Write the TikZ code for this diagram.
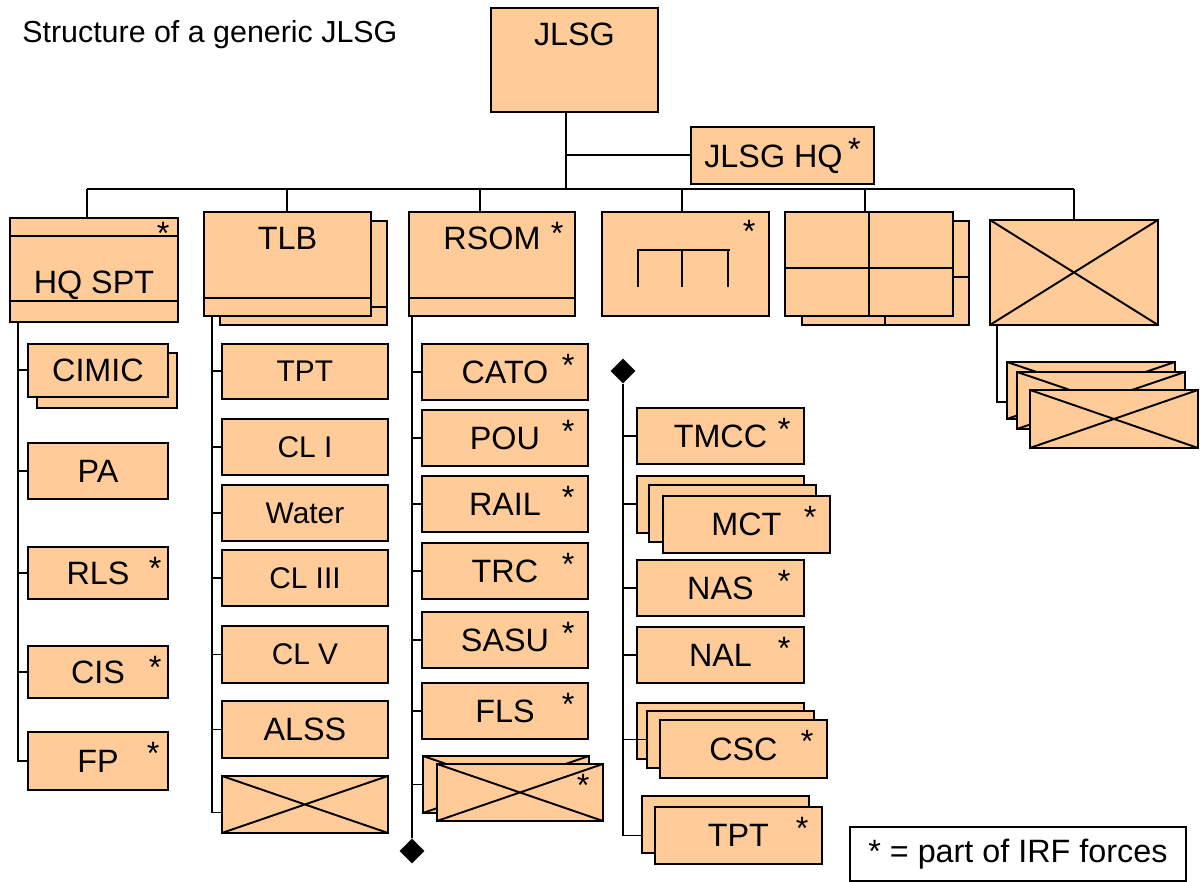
\documentclass[tikz,border=0pt]{standalone}
\usepackage{fontspec}
\setmainfont{Liberation Sans}
\usetikzlibrary{shapes.geometric,positioning}
\definecolor{unitfill}{HTML}{FFCC99}
\definecolor{ink}{HTML}{000000}
\newcommand\unitfont{\fontsize{18.4}{22}\selectfont}
\newcommand\subfont{\fontsize{17}{20}\selectfont}
\tikzset{
  unitbox/.style={
    draw=ink,
    fill=unitfill,
    line width=1.1pt,
    anchor=north west,
    minimum width=3.32cm,
    minimum height=1.12cm,
    inner sep=0pt,
    font=\unitfont,
    text=ink
  },
  smallbox/.style={unitbox, minimum width=2.8cm, minimum height=1.1cm},
  headbox/.style={unitbox, text height=0.76cm, text depth=1.32cm},
  crossbox/.style={unitbox, path picture={
    \draw[line width=1.1pt] (path picture bounding box.north west) -- (path picture bounding box.south east)
      (path picture bounding box.south west) -- (path picture bounding box.north east);}},
  irfmark/.style={anchor=north east, inner sep=0pt, xshift=-0.28cm, yshift=-0.22cm, font=\unitfont},
  irf/.style={label={[irfmark,#1]north east:*}},
  irf/.default={},
  link/.style={draw=ink, line width=1.1pt},
  endmark/.style={diamond, fill=ink, minimum size=0.5cm, inner sep=0pt}
}

\begin{document}
\begin{tikzpicture}[x=0.02cm, y=-0.02cm]
  \useasboundingbox (0,0) rectangle (1200,882);
  \fill[white] (0,0) rectangle (1200,882);

  \node[anchor=base west, inner sep=0pt, font=\fontsize{17.3}{20}\selectfont] (title) at (22,43) {Structure of a generic JLSG};
  \node[headbox, minimum width=3.34cm] (jlsg) at (490,7) {JLSG};
  \node[unitbox, minimum width=3.66cm, minimum height=1.14cm] (jlsghq) at (690,126) {JLSG HQ\,\raisebox{0.14cm}{*}};
  \node[draw=ink, line width=1.1pt, anchor=north west, minimum width=6.72cm, minimum height=1.08cm, font=\unitfont] (legend) at (849,826) {* = part of IRF forces};

  % first row
  \node[unitbox, minimum width=3.36cm, minimum height=2.08cm, text height=1.52cm, text depth=0.56cm, irf={xshift=0.1cm, yshift=0.12cm}] (hqspt) at (9,217) {HQ SPT};
  \draw[link] ([yshift=-0.38cm]hqspt.north west) -- ([yshift=-0.38cm]hqspt.north east);
  \draw[link] ([yshift=0.44cm]hqspt.south west) -- ([yshift=0.44cm]hqspt.south east);

  \node[unitbox, minimum width=3.34cm, minimum height=2.08cm] (tlbB) at (219,220) {};
  \draw[link] ([yshift=0.38cm]tlbB.south west) -- ([yshift=0.38cm]tlbB.south east);
  \node[headbox, minimum width=3.34cm] (tlb) at (203,211) {TLB};
  \draw[link] ([yshift=0.38cm]tlb.south west) -- ([yshift=0.38cm]tlb.south east);

  \node[headbox, irf={xshift=0.04cm}] (rsom) at (408,211) {RSOM};
  \draw[link] ([yshift=0.38cm]rsom.south west) -- ([yshift=0.38cm]rsom.south east);

  \node[unitbox, minimum width=3.34cm, minimum height=2.08cm, irf={yshift=0.04cm}] (mov) at (601,211) {};
  \draw[link] ([shift={(37,76)}]mov.north west) -- ++(0,-37) -- ++(92,0)
    ([shift={(81,39)}]mov.north west) -- ++(0,37)
    ([shift={(127,39)}]mov.north west) -- ++(0,37);

  \node[unitbox, minimum width=3.34cm, minimum height=2.08cm] (gridB) at (801,220) {};
  \draw[link] (gridB.north) -- (gridB.south)
    ([yshift=-1.14cm]gridB.north west) -- ([yshift=-1.14cm]gridB.north east);
  \node[unitbox, minimum width=3.36cm, minimum height=2.08cm] (gridF) at (784,211) {};
  \draw[link] (gridF.north) -- (gridF.south)
    ([yshift=-1.14cm]gridF.north west) -- ([yshift=-1.14cm]gridF.north east);

  \node[crossbox, minimum width=3.36cm, minimum height=2.1cm] (xtop) at (989,219) {};

  % HQ SPT column
  \node[smallbox] (cimicB) at (36,352) {};
  \node[smallbox, minimum height=1.06cm] (cimic) at (27,343) {CIMIC};
  \node[smallbox, minimum height=1.12cm] (pa) at (27,442) {PA};
  \node[smallbox, minimum height=1.04cm, irf={xshift=0.14cm}] (rls) at (27,546) {RLS};
  \node[smallbox, minimum height=1.04cm, irf={xshift=0.14cm}] (cis) at (27,645) {CIS};
  \node[smallbox, minimum height=1.16cm, irf={xshift=0.1cm}] (fp) at (27,731) {FP};

  % TLB column
  \node[unitbox, minimum height=1.1cm, font=\subfont] (tptA) at (221,343) {TPT};
  \node[unitbox, font=\subfont] (cli) at (221,418) {CL I};
  \node[unitbox, font=\subfont] (water) at (221,484) {Water};
  \node[unitbox, font=\subfont] (cliii) at (221,549) {CL III};
  \node[unitbox, minimum height=1.14cm, font=\subfont] (clv) at (221,625) {CL V};
  \node[unitbox, minimum height=1.14cm] (alss) at (221,700) {ALSS};
  \node[crossbox, minimum height=1.14cm] (tlbx) at (221,775) {};

  % RSOM column
  \node[unitbox, irf] (cato) at (421,343) {CATO};
  \node[unitbox, irf] (pou) at (421,409) {POU};
  \node[unitbox, irf] (rail) at (421,475) {RAIL};
  \node[unitbox, irf] (trc) at (421,542) {TRC};
  \node[unitbox, irf] (sasu) at (421,611) {SASU};
  \node[unitbox, irf] (fls) at (421,682) {FLS};
  \node[crossbox, minimum height=1.14cm] (rsomxB) at (422,755) {};
  \node[crossbox, minimum height=1.14cm, irf] (rsomx) at (436,763) {};
  \node[endmark] (rsomend) at (412,851) {};

  % movement column
  \node[endmark] (movend) at (623,371) {};
  \node[unitbox, minimum width=3.34cm, irf] (tmcc) at (636,407) {TMCC};
  \node[unitbox, minimum width=3.34cm, minimum height=1.14cm] (mctA) at (636,475) {};
  \node[unitbox, minimum width=3.34cm, minimum height=1.14cm] (mctB) at (648,484) {};
  \node[unitbox, minimum width=3.34cm, minimum height=1.14cm, irf] (mct) at (662,495) {MCT};
  \node[unitbox, minimum width=3.34cm, irf] (nas) at (636,559) {NAS};
  \node[unitbox, minimum width=3.34cm, irf] (nal) at (636,626) {NAL};
  \node[unitbox, minimum width=3.34cm, minimum height=1.12cm] (cscA) at (636,702) {};
  \node[unitbox, minimum width=3.34cm, minimum height=1.14cm] (cscB) at (646,710) {};
  \node[unitbox, minimum width=3.34cm, minimum height=1.16cm, irf] (csc) at (659,719) {CSC};
  \node[unitbox, minimum width=3.34cm, minimum height=1.14cm] (tptB) at (641,795) {};
  \node[unitbox, minimum width=3.34cm, minimum height=1.14cm, irf] (tpt) at (654,806) {TPT};

  % last column
  \node[crossbox, minimum width=3.36cm, minimum height=1.14cm] (xsA) at (1006,361) {};
  \node[crossbox, minimum width=3.36cm, minimum height=1.14cm] (xsB) at (1016,371) {};
  \node[crossbox, minimum width=3.36cm, minimum height=1.16cm] (xs) at (1029,389) {};

  % connectors
  \coordinate (spine) at (566,189);
  \draw[link] (jlsg.south -| spine) -- (spine);
  \draw[link] (spine |- jlsghq.west) -- (jlsghq.west);
  \draw[link] ([xshift=-0.14cm]hqspt.north |- spine) -- (xtop.north |- spine);
  \draw[link] ([xshift=-0.14cm]hqspt.north |- spine) -- ([xshift=-0.14cm]hqspt.north);
  \draw[link] (tlb.north |- spine) -- (tlb.north);
  \draw[link] ([xshift=-0.24cm]rsom.north |- spine) -- ([xshift=-0.24cm]rsom.north);
  \draw[link] ([xshift=-0.06cm]mov.north |- spine) -- ([xshift=-0.06cm]mov.north);
  \draw[link] ([xshift=-0.08cm]gridF.north |- spine) -- ([xshift=-0.08cm]gridF.north);
  \draw[link] (xtop.north |- spine) -- (xtop.north);

  \coordinate (trunkA) at ([xshift=0.18cm]hqspt.south west);
  \draw[link] (trunkA) |- (fp.west);
  \foreach \n in {cimic,pa,rls,cis}
    \draw[link] (trunkA |- \n.west) -- (\n.west);

  \coordinate (trunkB) at ([xshift=0.18cm]tlb.south west);
  \draw[link] (trunkB) |- ([yshift=-0.16cm]tlbx.west);
  \foreach \n in {tptA,cli,water,cliii,clv,alss}
    \draw[link] (trunkB |- \n.west) -- (\n.west);

  \coordinate (trunkC) at ([xshift=0.08cm]rsom.south west);
  \draw[link] (trunkC) -- (rsomend.north);
  \foreach \n in {cato,pou,rail,trc,sasu,fls,rsomxB}
    \draw[link] (trunkC |- \n.west) -- (\n.west);

  \draw[link] (movend.south) |- (tptB.west |- tpt.west);
  \foreach \n in {tmcc,mctA,nas,nal}
    \draw[link] (movend.south |- \n.west) -- (\n.west);
  \draw[link] (movend.south |- cscB.west) -- (cscB.west);

  \coordinate (trunkF) at ([xshift=0.16cm]xtop.south west);
  \draw[link] (trunkF) |- ([yshift=-0.24cm]xsA.west);
\end{tikzpicture}
\end{document}
